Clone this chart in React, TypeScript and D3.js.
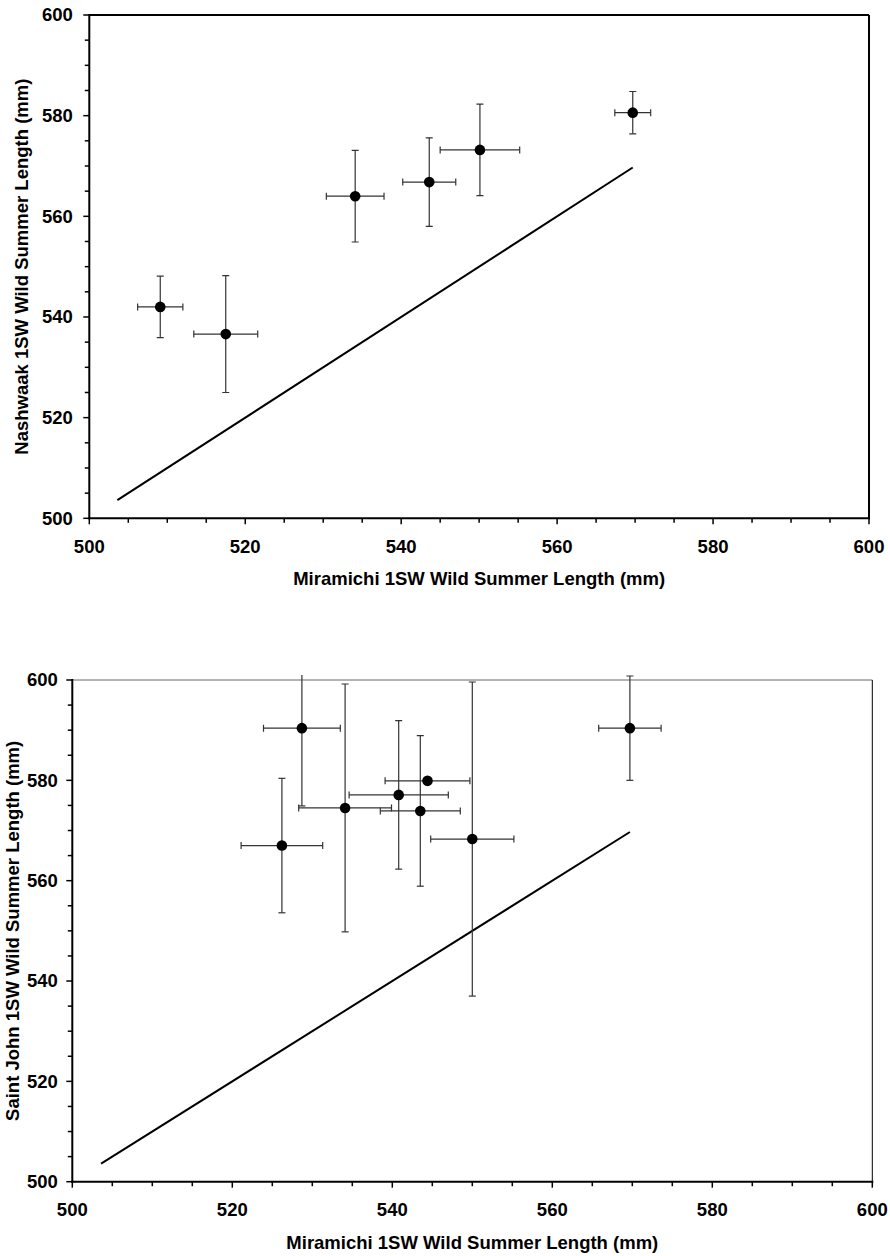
import React from "react";
import * as d3 from "d3";

// ---- data ----
const xTickValues = [500, 520, 540, 560, 580, 600];
const yTickValues = [500, 520, 540, 560, 580, 600];
const minorStep = 5;

const xTitle = "Miramichi 1SW Wild Summer Length (mm)";
const nashTitle = "Nashwaak 1SW Wild Summer Length (mm)";
const sjTitle = "Saint John 1SW Wild Summer Length (mm)";

const nashX = [509.1, 517.5, 534.1, 543.6, 550.1, 569.7];
const nashXErr = [2.9, 4.1, 3.7, 3.4, 5.1, 2.3];
const nashY = [542.0, 536.6, 564.0, 566.8, 573.2, 580.6];
const nashYErr = [6.1, 11.6, 9.1, 8.8, 9.1, 4.2];

const sjX = [528.7, 534.1, 540.8, 544.4, 543.5, 550.0, 526.2, 569.7];
const sjXErr = [4.8, 5.8, 6.2, 5.3, 5.0, 5.2, 5.1, 3.9];
const sjY = [590.4, 574.5, 577.1, 579.9, 573.9, 568.3, 567.0, 590.4];
const sjYErr = [15.5, 24.7, 14.8, 0, 15.0, 31.3, 13.4, 10.4];

const oneToOne = [503.6, 569.7];

const FONT = "'Liberation Sans', Arial, sans-serif";
const FS = 18.5;

type PanelProps = {
  id: string;
  left: number;
  right: number;
  top: number;
  bottom: number;
  xs: number[];
  xe: number[];
  ys: number[];
  ye: number[];
  yTitle: string;
  yTitleX: number;
  yLabelGap: number;
  thinFrame: boolean;
  errColor: string;
};

function Panel(p: PanelProps) {
  const x = d3.scaleLinear().domain([500, 600]).range([p.left, p.right]);
  const y = d3.scaleLinear().domain([500, 600]).range([p.bottom, p.top]);
  const minor = d3.range(500, 600 + 0.001, minorStep);
  const line = d3
    .line<number>()
    .x((d) => x(d))
    .y((d) => y(d));
  const cap = 3.5;
  const clipId = "clip-" + p.id;
  return (
    <g>
      <defs>
        <clipPath id={clipId}>
          <rect x={p.left} y={p.top - 5} width={p.right - p.left + 20} height={p.bottom - p.top + 5} />
        </clipPath>
      </defs>
      {/* frame top/right */}
      <line
        x1={p.left}
        x2={p.right}
        y1={p.top}
        y2={p.top}
        stroke={p.thinFrame ? "#666" : "#000"}
        strokeWidth={p.thinFrame ? 1 : 2}
      />
      <line
        x1={p.right}
        x2={p.right}
        y1={p.top}
        y2={p.bottom}
        stroke="#000"
        strokeWidth={p.thinFrame ? 1 : 2}
      />
      {/* 1:1 line */}
      <path d={line(oneToOne) || ""} stroke="#000" strokeWidth={2} fill="none" />
      {/* error bars */}
      <g clipPath={`url(#${clipId})`} stroke={p.errColor} strokeWidth={1.2} fill="none">
        {p.xs.map((xv, i) => {
          const cx = x(xv);
          const cy = y(p.ys[i]);
          const xl = x(xv - p.xe[i]);
          const xr = x(xv + p.xe[i]);
          const yt = y(p.ys[i] + p.ye[i]);
          const yb = y(p.ys[i] - p.ye[i]);
          return (
            <g key={i}>
              {p.xe[i] > 0 && (
                <>
                  <line x1={xl} x2={xr} y1={cy} y2={cy} />
                  <line x1={xl} x2={xl} y1={cy - cap} y2={cy + cap} />
                  <line x1={xr} x2={xr} y1={cy - cap} y2={cy + cap} />
                </>
              )}
              {p.ye[i] > 0 && (
                <>
                  <line x1={cx} x2={cx} y1={yt} y2={yb} />
                  <line x1={cx - cap} x2={cx + cap} y1={yt} y2={yt} />
                  <line x1={cx - cap} x2={cx + cap} y1={yb} y2={yb} />
                </>
              )}
            </g>
          );
        })}
      </g>
      {/* points */}
      {p.xs.map((xv, i) => (
        <circle key={i} cx={x(xv)} cy={y(p.ys[i])} r={5.3} fill="#000" />
      ))}
      {/* axes */}
      <line x1={p.left} x2={p.left} y1={p.top - 1} y2={p.bottom + 1} stroke="#000" strokeWidth={2} />
      <line x1={p.left - 1} x2={p.right + 1} y1={p.bottom} y2={p.bottom} stroke="#000" strokeWidth={2} />
      {minor.map((v) => {
        const major = v % 20 === 0;
        const len = major ? 6 : 4.5;
        return (
          <g key={"t" + v} stroke="#000" strokeWidth={1.5}>
            <line x1={x(v)} x2={x(v)} y1={p.bottom} y2={p.bottom + len} />
            <line x1={p.left} x2={p.left - len} y1={y(v)} y2={y(v)} />
          </g>
        );
      })}
      {xTickValues.map((v) => (
        <text
          key={"xl" + v}
          x={x(v)}
          y={p.bottom + 34.5}
          textAnchor="middle"
          fontFamily={FONT}
          fontWeight="bold"
          fontSize={FS}
          fill="#000"
        >
          {v}
        </text>
      ))}
      {yTickValues.map((v) => (
        <text
          key={"yl" + v}
          x={p.left - p.yLabelGap}
          y={y(v)}
          dy="0.35em"
          textAnchor="end"
          fontFamily={FONT}
          fontWeight="bold"
          fontSize={FS}
          fill="#000"
        >
          {v}
        </text>
      ))}
      <text
        x={(p.left + p.right) / 2}
        y={p.bottom + 67}
        textAnchor="middle"
        fontFamily={FONT}
        fontWeight="bold"
        fontSize={FS}
        fill="#000"
      >
        {xTitle}
      </text>
      <text
        transform={`translate(${p.yTitleX},${(p.top + p.bottom) / 2}) rotate(-90)`}
        textAnchor="middle"
        fontFamily={FONT}
        fontWeight="bold"
        fontSize={FS}
        fill="#000"
      >
        {p.yTitle}
      </text>
    </g>
  );
}

export default function App() {
  return (
    <div style={{ position: "absolute", left: 0, top: 0 }}>
      <svg width={890} height={1256} style={{ display: "block", background: "#fff" }}>
        <Panel
          id="a"
          left={89.3}
          right={869}
          top={15}
          bottom={518.3}
          xs={nashX}
          xe={nashXErr}
          ys={nashY}
          ye={nashYErr}
          yTitle={nashTitle}
          yTitleX={28}
          yLabelGap={16.5}
          thinFrame={false}
          errColor="#333"
        />
        <Panel
          id="b"
          left={72.3}
          right={872.3}
          top={680}
          bottom={1181.7}
          xs={sjX}
          xe={sjXErr}
          ys={sjY}
          ye={sjYErr}
          yTitle={sjTitle}
          yTitleX={18.5}
          yLabelGap={14.5}
          thinFrame={true}
          errColor="#333"
        />
      </svg>
    </div>
  );
}
